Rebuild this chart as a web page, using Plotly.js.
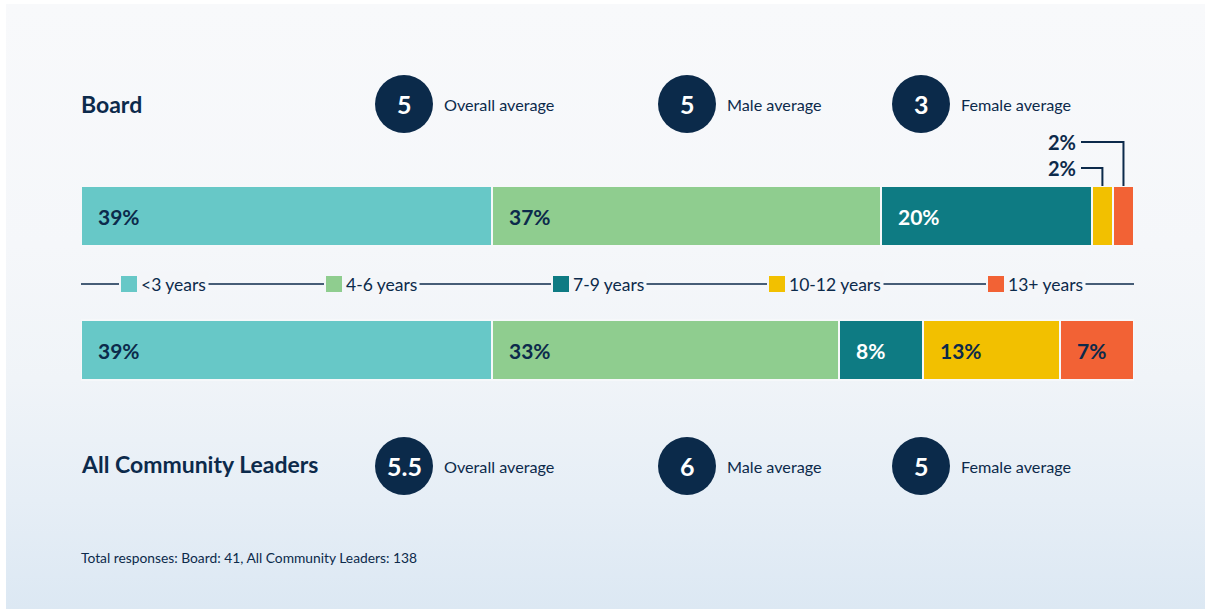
<!DOCTYPE html>
<html>
<head>
<meta charset="utf-8">
<script src="https://cdn.plot.ly/plotly-3.0.1.min.js"></script>
<style>
  html, body { margin: 0; padding: 0; background: #ffffff; }
  #card { position: absolute; left: 6px; top: 4px; width: 1199px; height: 605px;
          background: linear-gradient(180deg, #f8f9fb 0%, #f5f7fa 40%, #f0f4f8 62%, #e6eef6 82%, #dce8f3 100%); }
  #chart { position: absolute; left: 0; top: 0; width: 1205px; height: 609px; }
</style>
</head>
<body>
<div id="card"></div>
<div id="chart"></div>
<script>
// ---------- data ----------
const segments = ['<3 years', '4-6 years', '7-9 years', '10-12 years', '13+ years'];
const groups = ['Board', 'All Community Leaders'];
const boardValues = [39, 37, 20, 2, 2];
const leadersValues = [39, 33, 8, 13, 7];
const segmentColors = ['#67c8c7', '#8fcd8f', '#0e7b83', '#f2c000', '#f26235'];
const labelColors = ['#0c2a4b', '#0c2a4b', '#ffffff', '#0c2a4b', '#0c2a4b'];
const averageNames = ['Overall average', 'Male average', 'Female average'];
const boardAverages = ['5', '5', '3'];
const leadersAverages = ['5.5', '6', '5'];
const responseCounts = [41, 138];

// ---------- geometry helpers ----------
const W = 1205, H = 609, ML = 81, MR = 71;
const PW = W - ML - MR;
const NAVY = '#0c2a4b';
const FONT = 'Lato, "Open Sans", sans-serif';
const px = x => (x - ML) / PW;          // pixel -> paper x
const py = y => 1 - y / H;              // pixel -> paper y
const rowPix = [216, 350];              // category centres in px
const unit = rowPix[1] - rowPix[0];
const yRange = [(H - rowPix[0]) / unit, -rowPix[0] / unit];
const LS = -3;                          // left-anchored text shift

const valuesByGroup = [boardValues, leadersValues];

// ---------- traces ----------
const traces = segments.map((s, i) => ({
  type: 'bar', orientation: 'h', name: s,
  y: groups, x: valuesByGroup.map(v => v[i]),
  marker: { color: segmentColors[i], line: { color: '#f6f8fa', width: 2 } },
  width: 60 / unit, hoverinfo: 'name+x', showlegend: false
}));

// ---------- annotations & shapes ----------
const annotations = [];
const shapes = [];

// bar labels
valuesByGroup.forEach((vals, g) => {
  let start = 0;
  vals.forEach((v, i) => {
    if (v >= 5) {
      annotations.push({ xref: 'x', yref: 'y', x: start, y: groups[g], xanchor: 'left', xshift: 15,
        text: '<b>' + v + '%</b>', showarrow: false,
        font: { family: FONT, size: 21, color: labelColors[i] } });
    }
    start += v;
  });
});

// leader labels for small board segments
(function () {
  let start = 0;
  const small = [];
  boardValues.forEach((v, i) => { if (v < 5) small.push({ v, centre: start + v / 2, i }); start += v; });
  const levels = [168, 142];
  small.forEach((s, k) => {
    const ly = levels[k];
    annotations.push({ xref: 'paper', yref: 'paper', x: px(1078), y: py(ly), xanchor: 'right', yanchor: 'middle',
      text: '<b>' + s.v + '%</b>', showarrow: false, font: { family: FONT, size: 20, color: NAVY } });
    const x0 = 100 * px(1081);
    shapes.push({ type: 'path', xref: 'x', yref: 'paper',
      path: `M ${x0} ${py(ly)} L ${s.centre} ${py(ly)} L ${s.centre} ${py(186)}`,
      line: { color: NAVY, width: 2 } });
  });
})();

// group titles and averages
const titleY = [104, 464];
const avgCentreY = [104, 466];
const circleX = [404, 687, 921];
[boardAverages, leadersAverages].forEach((avgs, g) => {
  annotations.push({ xref: 'paper', yref: 'paper', x: px(82), y: py(titleY[g]), xanchor: 'left', yanchor: 'middle', xshift: LS,
    text: '<b>' + groups[g] + '</b>', showarrow: false, font: { family: FONT, size: 23, color: NAVY } });
  avgs.forEach((a, k) => {
    const cx = circleX[k], cy = avgCentreY[g], r = 29;
    shapes.push({ type: 'circle', xref: 'paper', yref: 'paper', x0: px(cx - r), x1: px(cx + r), y0: py(cy + r), y1: py(cy - r),
      fillcolor: '#0b2a4a', line: { width: 0 } });
    annotations.push({ xref: 'paper', yref: 'paper', x: px(cx), y: py(cy), xanchor: 'center', yanchor: 'middle',
      text: '<b>' + a + '</b>', showarrow: false, font: { family: FONT, size: 25, color: '#ffffff' } });
    annotations.push({ xref: 'paper', yref: 'paper', x: px(cx + 41), y: py(cy), xanchor: 'left', yanchor: 'middle', xshift: LS,
      text: averageNames[k], showarrow: false, font: { family: FONT, size: 16.2, color: NAVY } });
  });
});

// legend row
const LY = 284;
const legendBg = '#f4f6f9';
shapes.push({ type: 'line', xref: 'paper', yref: 'paper', x0: 0, x1: 1, y0: py(LY), y1: py(LY), line: { color: NAVY, width: 1.5 } });
const swatchX = [121, 326, 553, 769, 988];
segments.forEach((s, i) => {
  const sx = swatchX[i];
  shapes.push({ type: 'rect', xref: 'paper', yref: 'paper', x0: px(sx - 2), x1: px(sx + 19), y0: py(LY + 3), y1: py(LY - 3),
    fillcolor: legendBg, line: { width: 0 } });
  shapes.push({ type: 'rect', xref: 'paper', yref: 'paper', x0: px(sx), x1: px(sx + 16), y0: py(LY + 8), y1: py(LY - 8),
    fillcolor: segmentColors[i], line: { width: 0 } });
  annotations.push({ xref: 'paper', yref: 'paper', x: px(sx + 17), y: py(LY), xanchor: 'left', yanchor: 'middle',
    text: s, showarrow: false, bgcolor: legendBg, borderpad: 2,
    font: { family: FONT, size: 17.5, color: NAVY } });
});

// footnote
annotations.push({ xref: 'paper', yref: 'paper', x: px(82), y: py(557), xanchor: 'left', yanchor: 'middle', xshift: LS,
  text: 'Total responses: ' + groups[0] + ': ' + responseCounts[0] + ', ' + groups[1] + ': ' + responseCounts[1],
  showarrow: false, font: { family: FONT, size: 13.8, color: NAVY } });

const layout = {
  width: W, height: H, margin: { l: ML, r: MR, t: 0, b: 0, pad: 0 },
  paper_bgcolor: 'rgba(0,0,0,0)', plot_bgcolor: 'rgba(0,0,0,0)',
  barmode: 'stack', showlegend: false,
  xaxis: { range: [0, 100], visible: false, fixedrange: true },
  yaxis: { type: 'category', categoryorder: 'array', categoryarray: groups, range: yRange, autorange: false, visible: false, fixedrange: true },
  annotations, shapes,
  font: { family: FONT, color: NAVY }
};

Plotly.newPlot('chart', traces, layout, { displayModeBar: false, responsive: false });
</script>
</body>
</html>
